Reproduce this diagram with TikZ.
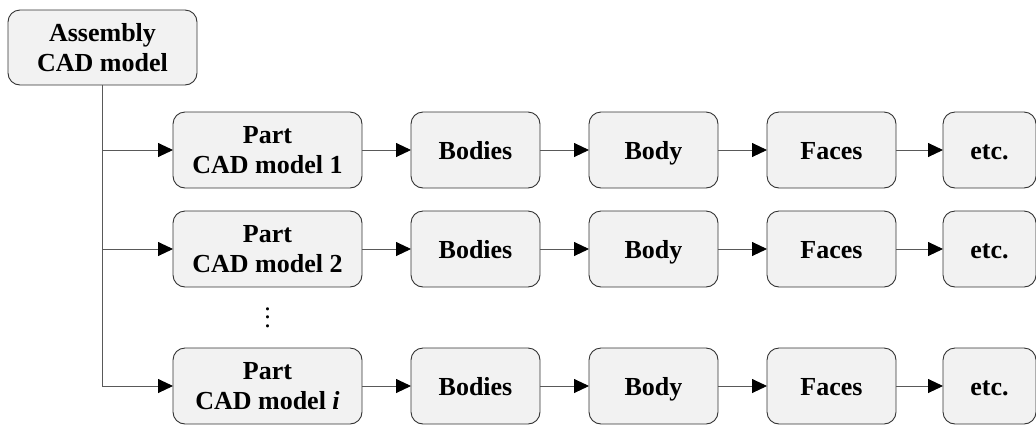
\documentclass[tikz,border=0pt]{standalone}
\usepackage{fontspec}
\setmainfont{Liberation Serif}
\usetikzlibrary{positioning}
\usetikzlibrary{arrows.meta}
\usetikzlibrary{calc}

\tikzset{
  block/.style={draw=black!80, fill=black!5, rounded corners=12pt, line width=0.9pt,
    minimum height=76pt, inner sep=0pt, outer sep=0pt, align=center,
    font=\fontsize{26}{30}\selectfont\bfseries},
  partblock/.style={block, minimum width=189pt},
  stepblock/.style={block, minimum width=129pt, text height=18pt, text depth=0pt},
  endblock/.style={stepblock, minimum width=93pt},
  link/.style={draw=black!65, line width=0.9pt, -{Triangle[length=15pt, width=14pt, black]}},
}

\begin{document}
\begin{tikzpicture}[node distance=49pt]
    \useasboundingbox (0,0) rectangle (1036pt,-424pt);

    \node (asm) [block, minimum width=189pt, minimum height=75pt] at (102.5pt,-47.5pt) {Assembly\\CAD model};

    \node (part1) [partblock] at (267.5pt,-150pt) {Part\\CAD model 1};
    \node (bodies1) [stepblock, right=of part1] {Bodies};
    \node (body1) [stepblock, right=of bodies1] {Body};
    \node (faces1) [stepblock, right=of body1] {Faces};
    \node (etc1) [endblock, right=47pt of faces1] {etc.};

    \node (part2) [partblock, below=23pt of part1] {Part\\CAD model 2};
    \node (bodies2) [stepblock, right=of part2] {Bodies};
    \node (body2) [stepblock, right=of bodies2] {Body};
    \node (faces2) [stepblock, right=of body2] {Faces};
    \node (etc2) [endblock, right=47pt of faces2] {etc.};

    \node (parti) [partblock, below=61pt of part2] {Part\\CAD model \textit{i}};
    \node (bodiesi) [stepblock, right=of parti] {Bodies};
    \node (bodyi) [stepblock, right=of bodiesi] {Body};
    \node (facesi) [stepblock, right=of bodyi] {Faces};
    \node (etci) [endblock, right=47pt of facesi] {etc.};

    % vertical ellipsis between row 2 and row i
    \node (dots) [font=\fontsize{26}{29}\selectfont, inner sep=0pt]
      at ($(part2.south)!0.5!(parti.north)$)
      {\vbox{\baselineskip=8.5pt \lineskiplimit=0pt \hbox{.}\hbox{.}\hbox{.}}};

    \draw[link] (asm.south) |- (part1);
    \draw[link] (asm.south) |- (part2);
    \draw[link] (asm.south) |- (parti);

    \draw[link] (part1) to (bodies1);
    \draw[link] (bodies1) to (body1);
    \draw[link] (body1) to (faces1);
    \draw[link] (faces1) to (etc1);

    \draw[link] (part2) to (bodies2);
    \draw[link] (bodies2) to (body2);
    \draw[link] (body2) to (faces2);
    \draw[link] (faces2) to (etc2);

    \draw[link] (parti) to (bodiesi);
    \draw[link] (bodiesi) to (bodyi);
    \draw[link] (bodyi) to (facesi);
    \draw[link] (facesi) to (etci);
  \end{tikzpicture}
\end{document}
